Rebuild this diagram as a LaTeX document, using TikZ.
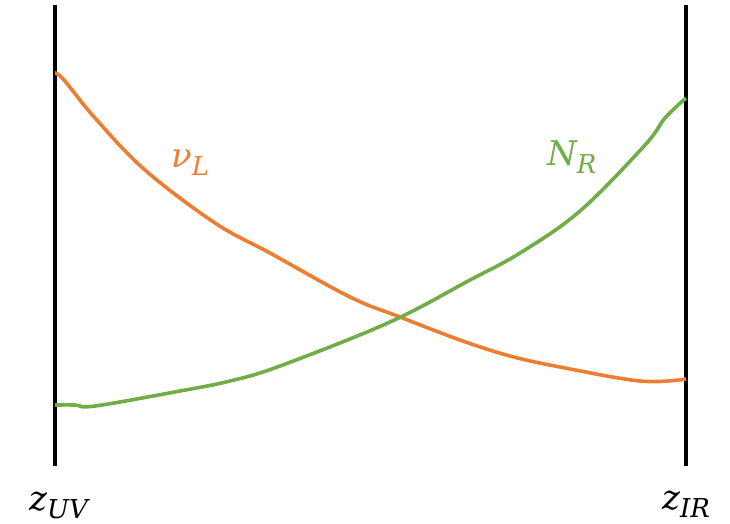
\documentclass[tikz,border=0pt]{standalone}
\usepackage{fontspec}
\newfontfamily\lblfont{DejaVu Serif}
\usepackage{tikz}
\newcommand{\lblsub}[2]{#1\raisebox{-0.24em}{\fontsize{26}{30}\selectfont #2}}
\begin{document}
\begin{tikzpicture}[x=1pt,y=-1pt,
  wall/.style={line width=4pt},
  curveL/.style={line width=3.6pt, color=nuorange, line join=round},
  curveR/.style={line width=3.6pt, color=nrgreen, line join=round},
  lbl/.style={inner sep=0pt, anchor=base west, font=\lblfont\itshape\fontsize{34}{40}\selectfont}]
\definecolor{nuorange}{HTML}{ED7D31}
\definecolor{nrgreen}{HTML}{70AD47}
\useasboundingbox (0,0) rectangle (730,523);
\coordinate (uvtop) at (55,5);
\coordinate (uvbot) at (55,466);
\coordinate (irtop) at (686,5);
\coordinate (irbot) at (686,466);
\draw[wall] (uvtop) -- (uvbot);
\draw[wall] (irtop) -- (irbot);
\draw[curveL] plot[smooth, tension=0.6] coordinates {(55,73) (64,80) (95,118) (145,170) (215,223) (270,253) (350,297) (400,317) (460,340) (510,356) (560,367) (640,381) (686,379)};
\draw[curveR] plot[smooth, tension=0.6] coordinates {(55,405) (75,405) (95,406) (180,391) (230,381) (280,366) (390,322) (470,280) (520,253) (580,211) (645,145) (665,118) (686,98)};
\node[lbl] (zuv) at (29,510) {\lblsub{z}{UV}};
\node[lbl] (zir) at (662,509) {\lblsub{z}{IR}};
\node[lbl, text=nuorange] (nul) at (171,167) {\lblsub{ν}{L}};
\node[lbl, text=nrgreen] (nr) at (547,165) {\lblsub{N}{R}};
\end{tikzpicture}
\end{document}
